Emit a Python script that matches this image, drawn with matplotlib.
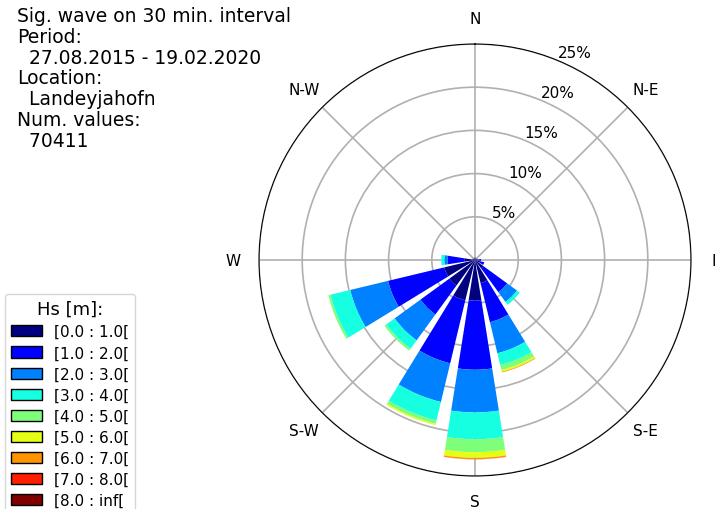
import numpy as np
import matplotlib
matplotlib.use("Agg")
import matplotlib.pyplot as plt

# Directions (16 sectors, clockwise from North)
directions = ['N', 'NNE', 'NE', 'ENE', 'E', 'ESE', 'SE', 'SSE',
              'S', 'SSW', 'SW', 'WSW', 'W', 'WNW', 'NW', 'NNW']
dir_deg = np.arange(0, 360, 22.5)

# Hs classes
hs_labels = ['[0.0 : 1.0[', '[1.0 : 2.0[', '[2.0 : 3.0[', '[3.0 : 4.0[',
             '[4.0 : 5.0[', '[5.0 : 6.0[', '[6.0 : 7.0[', '[7.0 : 8.0[',
             '[8.0 : inf[']

# Frequencies (%) per Hs class for each direction
hs_0_1 = [0.3, 0.2, 0.2, 0.3, 0.4, 0.6, 1.2, 2.75, 4.7, 4.8, 3.65, 3.65, 1.2, 0.3, 0.2, 0.2]
hs_1_2 = [0, 0, 0, 0, 0.3, 0.5, 3.4, 4.65, 8.0, 7.5, 4.15, 6.7, 1.95, 0, 0, 0]
hs_2_3 = [0, 0, 0, 0, 0, 0, 1.4, 3.7, 4.95, 4.6, 3.7, 4.5, 0.4, 0, 0, 0]
hs_3_4 = [0, 0, 0, 0, 0, 0, 0.4, 1.4, 3.1, 2.2, 1.2, 2.35, 0.35, 0, 0, 0]
hs_4_5 = [0, 0, 0, 0, 0, 0, 0, 0.6, 1.5, 0.4, 0.25, 0.25, 0, 0, 0, 0]
hs_5_6 = [0, 0, 0, 0, 0, 0, 0, 0.2, 0.65, 0.15, 0, 0, 0, 0, 0, 0]
hs_6_7 = [0, 0, 0, 0, 0, 0, 0, 0.08, 0.15, 0, 0, 0, 0, 0, 0, 0]
hs_7_8 = [0, 0, 0, 0, 0, 0, 0, 0, 0.02, 0, 0, 0, 0, 0, 0, 0]
hs_8_inf = [0] * 16

table = np.array([hs_0_1, hs_1_2, hs_2_3, hs_3_4, hs_4_5,
                  hs_5_6, hs_6_7, hs_7_8, hs_8_inf])

colors = plt.cm.jet(np.linspace(0, 1, len(hs_labels)))

fig = plt.figure(figsize=(7.15, 5.1), dpi=100)
ax = fig.add_axes([259 / 715, 33 / 510, 432 / 715, 432 / 510], projection='polar')
ax.set_theta_zero_location('N')
ax.set_theta_direction(-1)

theta = np.radians(dir_deg)
width = np.radians(22.5 * 0.8)
bottom = np.zeros(len(directions))
handles = []
for i in range(len(hs_labels)):
    ax.bar(theta, table[i], width=width, bottom=bottom, color=colors[i],
           edgecolor='none', linewidth=0, zorder=2)
    bottom += table[i]
    handles.append(plt.Rectangle((0, 0), 1, 1, facecolor=colors[i],
                                 edgecolor='black', linewidth=1))

ax.set_ylim(0, 25)
ax.set_xticks(np.radians(np.arange(0, 360, 45)))
ax.set_xticklabels(['N', 'N-E', 'E', 'S-E', 'S', 'S-W', 'W', 'N-W'], fontsize=11)
ax.tick_params(axis='x', pad=8)
ax.set_rgrids([5, 10, 15, 20, 25], labels=['5%', '10%', '15%', '20%', '25%'],
              angle=22.5, fontsize=11)
ax.grid(True, color='#b0b0b0', linewidth=1.2, zorder=1)
ax.set_axisbelow(True)

info = ("Sig. wave on 30 min. interval\nPeriod:\n  27.08.2015 - 19.02.2020\n"
        "Location:\n  Landeyjahofn\nNum. values:\n  70411")
fig.text(17 / 715, 1 - 7 / 510, info, va='top', ha='left', fontsize=13.5,
         linespacing=1.12)

fig.legend(handles, hs_labels, title='Hs [m]:', loc='upper left',
           bbox_to_anchor=(5 / 715, 1 - 295 / 510), fontsize=11,
           title_fontsize=13, handlelength=2.0, handleheight=0.75,
           labelspacing=0.4, borderaxespad=0)

fig.savefig('out.png', dpi=100)
